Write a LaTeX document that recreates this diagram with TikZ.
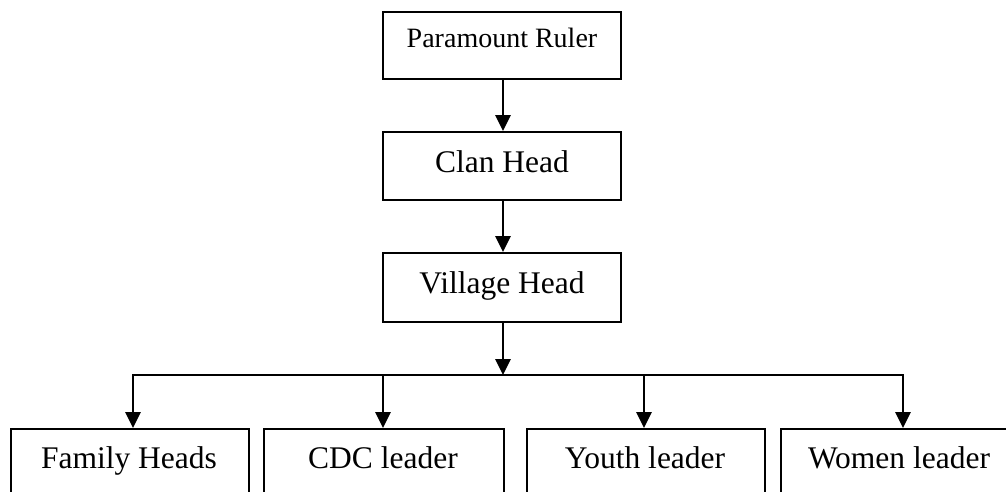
\documentclass[tikz,border=0pt]{standalone}
\usepackage{fontspec}
\setmainfont{Liberation Serif}
\usetikzlibrary{arrows.meta}
\begin{document}
\begin{tikzpicture}[x=1pt,y=-1pt,
  box/.style={draw=black,line width=2pt,rectangle,inner sep=0pt,minimum width=238pt},
  lbl/.style={anchor=base,inner sep=0pt,font=\fontsize{31.5}{36}\selectfont},
  arr/.style={line width=2.8pt,-{Triangle[length=16pt,width=15pt]}},
  ln/.style={line width=2.8pt}]
\useasboundingbox (0,0) rectangle (1006,491);
\clip (0,0) rectangle (1006,491);
\fill[white] (0,0) rectangle (1006,491);
% top three boxes
\node[box,minimum height=67pt] (pr) at (502,45.5) {};
\node[lbl,font=\fontsize{28}{32}\selectfont] (prt) at (502,47) {Paramount Ruler};
\node[box,minimum height=68pt] (ch) at (502,166) {};
\node[lbl] (cht) at (502,172) {Clan Head};
\node[box,minimum height=69pt] (vh) at (502,287.5) {};
\node[lbl] (vht) at (502,293) {Village Head};
% bottom boxes (cut by the lower and right edges)
\node[box,minimum height=120pt,minimum width=238pt,anchor=north west] (fh) at (10,428) {};
\node[lbl] (fht) at (129,468) {Family Heads};
\node[box,minimum height=120pt,minimum width=240pt,anchor=north west] (cdc) at (263,428) {};
\node[lbl] (cdct) at (383,468) {CDC leader};
\node[box,minimum height=120pt,minimum width=238pt,anchor=north west] (yl) at (526,428) {};
\node[lbl] (ylt) at (645,468) {Youth leader};
\node[box,minimum height=120pt,minimum width=300pt,anchor=north west] (wl) at (780,428) {};
\node[lbl] (wlt) at (899,468) {Women leader};
% connectors
\coordinate (j) at (503,375);
\coordinate (j1) at (133,375);
\coordinate (j2) at (383,375);
\coordinate (j3) at (644,375);
\coordinate (j4) at (903,375);
\draw[arr] (pr.south -| j) -- (ch.north -| j);
\draw[arr] (ch.south -| j) -- (vh.north -| j);
\draw[arr] (vh.south -| j) -- (j);
\draw[ln,line cap=rect] (j1) -- (j4);
\draw[arr] (j1) -- (j1 |- fh.north);
\draw[arr] (j2) -- (j2 |- cdc.north);
\draw[arr] (j3) -- (j3 |- yl.north);
\draw[arr] (j4) -- (j4 |- wl.north);
\end{tikzpicture}
\end{document}
